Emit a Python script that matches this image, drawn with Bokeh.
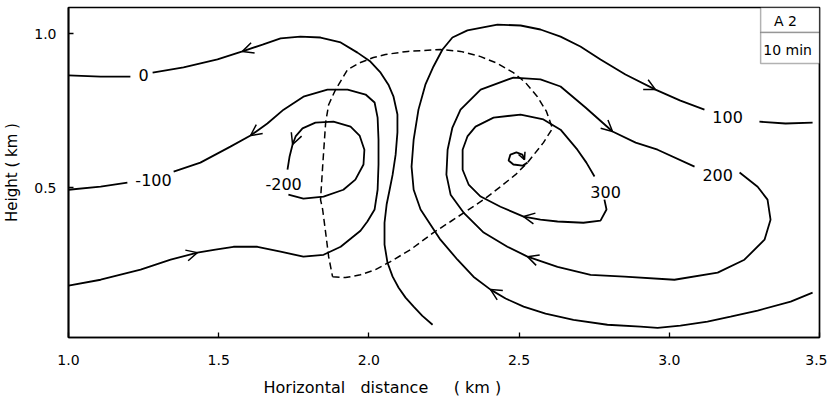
from bokeh.plotting import figure
from bokeh.models import (Range1d, FixedTicker, Arrow, OpenHead, BoxAnnotation,
                          Label, Title, ColumnDataSource)
from bokeh.embed import file_html
from bokeh.resources import INLINE
from bokeh.core.properties import value

# ---------------- data (km) ----------------
x_ticks = [1.0, 1.5, 2.0, 2.5, 3.0, 3.5]
x_tick_labels = ["1.0", "1.5", "2.0", "2.5", "3.0", "3.5"]
y_ticks = [0.5, 1.0]
y_tick_labels = ["0.5", "1.0"]
x_lo, x_hi = 1.0, 3.5
y_lo, y_hi = 0.0146, 1.0854

# streamline 0 (two pieces, label gap)
zero_a_x = [1.000, 1.107, 1.206]
zero_a_y = [0.865, 0.861, 0.861]
zero_b_x = [1.280, 1.383, 1.496, 1.579, 1.646, 1.706, 1.772, 1.839, 1.906, 1.962,
            2.005, 2.039, 2.065, 2.082, 2.095, 2.095, 2.089, 2.079, 2.069, 2.059,
            2.052, 2.052, 2.062, 2.079, 2.099, 2.122, 2.149, 2.178, 2.212]
zero_b_y = [0.874, 0.891, 0.917, 0.943, 0.965, 0.985, 0.991, 0.988, 0.972, 0.939,
            0.910, 0.874, 0.835, 0.796, 0.738, 0.680, 0.608, 0.543, 0.494, 0.446,
            0.387, 0.316, 0.257, 0.212, 0.176, 0.144, 0.115, 0.085, 0.056]

# streamline -100
m100_a_x = [1.000, 1.107, 1.196]
m100_a_y = [0.494, 0.504, 0.517]
m100_b_x = [1.350, 1.439, 1.539, 1.606, 1.662, 1.716, 1.782, 1.862, 1.929, 1.989,
            2.019, 2.029, 2.032, 2.032, 2.029, 2.019, 1.995, 1.972, 1.906, 1.849,
            1.782, 1.706, 1.629, 1.549, 1.489, 1.429, 1.340, 1.240, 1.107, 1.000]
m100_b_y = [0.553, 0.582, 0.634, 0.670, 0.709, 0.754, 0.796, 0.819, 0.819, 0.803,
            0.777, 0.728, 0.657, 0.576, 0.494, 0.430, 0.391, 0.361, 0.309, 0.283,
            0.277, 0.293, 0.309, 0.309, 0.300, 0.290, 0.267, 0.235, 0.202, 0.183]

# streamline -200
m200_x = [1.732, 1.782, 1.849, 1.915, 1.955, 1.982, 1.985, 1.969, 1.939, 1.882,
          1.822, 1.779, 1.756, 1.746, 1.736, 1.729]
m200_y = [0.478, 0.465, 0.472, 0.494, 0.527, 0.576, 0.624, 0.670, 0.699, 0.715,
          0.712, 0.693, 0.667, 0.641, 0.602, 0.559]

# streamline 100
s100_x = [3.477, 3.404, 3.294, 3.204, 3.127, 3.037, 2.961, 2.904, 2.794, 2.681,
          2.588, 2.515, 2.455, 2.405, 2.348, 2.295, 2.238, 2.172, 2.149, 2.142,
          2.149, 2.165, 2.188, 2.215, 2.245, 2.278, 2.328, 2.428, 2.505, 2.571,
          2.638, 2.704, 2.771, 2.854, 2.954, 3.037, 3.117]
s100_y = [0.160, 0.131, 0.102, 0.082, 0.066, 0.053, 0.046, 0.050, 0.056, 0.072,
          0.092, 0.115, 0.141, 0.170, 0.212, 0.267, 0.332, 0.430, 0.494, 0.569,
          0.657, 0.754, 0.835, 0.894, 0.949, 0.988, 1.011, 1.030, 1.027, 1.014,
          0.991, 0.959, 0.917, 0.868, 0.819, 0.783, 0.754]
s100_end_x = [3.300, 3.387, 3.477]
s100_end_y = [0.715, 0.709, 0.712]

# streamline 200
s200_x = [3.234, 3.294, 3.327, 3.337, 3.317, 3.250, 3.161, 3.017, 2.851, 2.738,
          2.628, 2.528, 2.461, 2.382, 2.315, 2.272, 2.258, 2.262, 2.278, 2.305,
          2.372, 2.481, 2.571, 2.638, 2.721, 2.811, 2.888, 2.961, 3.084]
s200_y = [0.550, 0.504, 0.462, 0.397, 0.332, 0.267, 0.225, 0.202, 0.212, 0.218,
          0.244, 0.277, 0.309, 0.355, 0.420, 0.478, 0.543, 0.624, 0.696, 0.754,
          0.819, 0.858, 0.852, 0.829, 0.761, 0.683, 0.647, 0.624, 0.569]

# streamline 300
s300_x = [2.784, 2.791, 2.771, 2.714, 2.628, 2.571, 2.515, 2.438, 2.372, 2.332,
          2.312, 2.312, 2.328, 2.355, 2.415, 2.505, 2.581, 2.638, 2.694, 2.724, 2.751]
s300_y = [0.462, 0.430, 0.394, 0.387, 0.391, 0.397, 0.407, 0.439, 0.472, 0.511,
          0.559, 0.624, 0.667, 0.699, 0.728, 0.738, 0.722, 0.689, 0.624, 0.582, 0.537]

# small spiral at the centre
spiral_x = [2.528, 2.511, 2.481, 2.465, 2.471, 2.491, 2.511, 2.518]
spiral_y = [0.582, 0.572, 0.576, 0.589, 0.608, 0.615, 0.608, 0.592]

# dashed boundary
dash_x = [1.879, 1.922, 1.972, 2.022, 2.072, 2.139, 2.215, 2.272, 2.322, 2.382,
          2.438, 2.488, 2.528, 2.581, 2.611, 2.591, 2.561, 2.521, 2.481, 2.428,
          2.372, 2.305, 2.238, 2.129, 2.055, 2.015, 1.972, 1.929, 1.889, 1.866,
          1.856, 1.846, 1.839, 1.846, 1.856, 1.866, 1.879]
dash_y = [0.212, 0.209, 0.218, 0.235, 0.261, 0.300, 0.355, 0.391, 0.423, 0.462,
          0.504, 0.543, 0.582, 0.647, 0.693, 0.748, 0.796, 0.842, 0.874, 0.904,
          0.926, 0.943, 0.949, 0.943, 0.933, 0.923, 0.907, 0.884, 0.819, 0.770,
          0.712, 0.569, 0.462, 0.430, 0.355, 0.277, 0.212]

# streamline value labels
label_text = ["0", "-100", "-200", "300", "200", "100"]
label_x = [1.250, 1.283, 1.716, 2.788, 3.161, 3.194]
label_y = [0.865, 0.527, 0.514, 0.488, 0.543, 0.731]

streams = {
    "zero_a": (zero_a_x, zero_a_y), "zero_b": (zero_b_x, zero_b_y),
    "m100_a": (m100_a_x, m100_a_y), "m100_b": (m100_b_x, m100_b_y),
    "m200": (m200_x, m200_y), "s100": (s100_x, s100_y),
    "s100_end": (s100_end_x, s100_end_y), "s200": (s200_x, s200_y),
    "s300": (s300_x, s300_y), "spiral": (spiral_x, spiral_y),
}
# arrowheads: (streamline, tip index, tail index)
arrow_specs = [("zero_b", 3, 4), ("m100_b", 3, 4), ("m100_b", 25, 26),
               ("m200", 13, 12), ("s100", 13, 12), ("s100", 34, 33),
               ("s200", 11, 10), ("s200", 25, 24), ("s300", 6, 5),
               ("spiral", 7, 6)]

FONT = "DejaVu Sans"
NB = "\u00a0"

p = figure(frame_width=751, frame_height=330, output_backend="svg", toolbar_location=None,
           x_range=Range1d(x_lo, x_hi), y_range=Range1d(y_lo, y_hi),
           min_border_left=62, min_border_right=8, min_border_top=7, min_border_bottom=0)
p.background_fill_color = "white"
p.border_fill_color = "white"
p.outline_line_color = "black"
p.outline_line_width = 1.7
p.grid.visible = False

for ax in (p.xaxis[0], p.yaxis[0]):
    ax.axis_line_width = 1.7
    ax.major_tick_in = 5
    ax.major_tick_out = 0
    ax.major_tick_line_width = 1.3
    ax.minor_tick_line_color = None
    ax.major_label_text_font = FONT
    ax.major_label_text_font_size = "14px"
    ax.major_label_text_color = "black"

p.xaxis.ticker = FixedTicker(ticks=x_ticks)
p.xaxis.major_label_overrides = dict(zip(x_ticks, x_tick_labels))
p.xaxis.major_label_standoff = 17
p.yaxis.ticker = FixedTicker(ticks=y_ticks)
p.yaxis.major_label_overrides = dict(zip(y_ticks, y_tick_labels))
p.yaxis.major_label_standoff = 12
p.yaxis.axis_label = "Height ( km )"
p.yaxis.axis_label_text_font = FONT
p.yaxis.axis_label_text_font_size = "15px"
p.yaxis.axis_label_text_font_style = "normal"
p.yaxis.axis_label_text_color = "black"
p.yaxis.axis_label_standoff = 10

xlabel = "Horizontal" + NB * 3 + "distance" + NB * 5 + "(" + NB + "km" + NB + ")"
p.add_layout(Title(text=xlabel, align="left", offset=195,
                   text_font=FONT, text_font_size="16px", text_font_style="normal",
                   text_color="black", standoff=17), "below")

for name, (xs, ys) in streams.items():
    p.line(xs, ys, line_color="black", line_width=1.8)

p.line(dash_x, dash_y, line_color="black", line_width=1.5, line_dash="7 4")

for name, tip, tail in arrow_specs:
    xs, ys = streams[name]
    size = 7 if name == "spiral" else 11
    p.add_layout(Arrow(end=OpenHead(size=size, line_width=1.5, line_color="black"),
                       x_start=xs[tail], y_start=ys[tail], x_end=xs[tip], y_end=ys[tip],
                       line_color=None))

src = ColumnDataSource(dict(x=label_x, y=label_y, t=label_text))
p.text("x", "y", text="t", source=src, text_font=value(FONT), text_font_size="16px",
       text_align="center", text_baseline="middle", text_color="black")

# inset box "A 2 / 10 min"
box_left, box_mid, box_bottom = 3.304, 1.004, 0.904
p.add_layout(BoxAnnotation(left=box_left, right=x_hi, bottom=box_mid, top=y_hi,
                           fill_color="white", fill_alpha=1, line_color="black", line_width=1.5))
p.add_layout(BoxAnnotation(left=box_left, right=x_hi, bottom=box_bottom, top=box_mid,
                           fill_color="white", fill_alpha=1, line_color="black", line_width=1.5))
p.add_layout(Label(x=3.387, y=1.040, text="A" + NB + "2", text_font=FONT, text_font_size="14px",
                   text_align="center", text_baseline="middle", text_color="black"))
p.add_layout(Label(x=3.394, y=0.949, text="10" + NB + "min", text_font=FONT, text_font_size="14px",
                   text_align="center", text_baseline="middle", text_color="black"))

open("out.html", "w").write(file_html(p, INLINE))
